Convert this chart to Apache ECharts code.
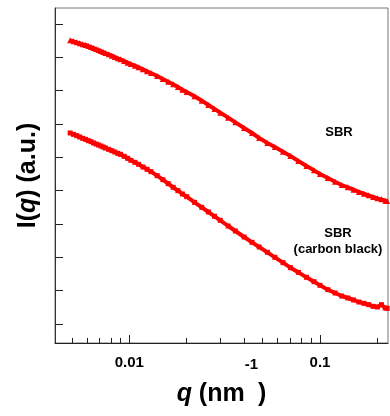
<!DOCTYPE html>
<html><head><meta charset="utf-8">
<script src="https://cdn.jsdelivr.net/npm/echarts@6/dist/echarts.min.js"></script>
<style>html,body{margin:0;padding:0;background:#fff}#c{width:390px;height:416px}</style>
</head><body><div id="c"></div>
<script>
// q values (nm^-1), shared sampling of both curves
const qSBR = [0.0049,0.0051,0.0053,0.0055,0.0057,0.0059,0.0061,0.0063,0.0065,0.0067,0.0069,0.0071,0.0073,0.0075,0.0078,0.0081,0.0084,0.0087,0.009,0.0094,0.0098,0.0102,0.0107,0.0112,0.0118,0.0124,0.013,0.014,0.015,0.016,0.017,0.018,0.019,0.02,0.022,0.024,0.026,0.028,0.03,0.033,0.036,0.04,0.044,0.048,0.053,0.058,0.064,0.07,0.077,0.085,0.093,0.1,0.11,0.12,0.13,0.14,0.15,0.16,0.17,0.18,0.19,0.2,0.21,0.22,0.225];
const iSBR = [9.51,9.48,9.45,9.42,9.39,9.37,9.34,9.31,9.28,9.25,9.22,9.19,9.16,9.13,9.09,9.05,9.01,8.97,8.94,8.89,8.84,8.80,8.75,8.70,8.64,8.58,8.53,8.44,8.35,8.27,8.19,8.11,8.03,7.96,7.83,7.70,7.57,7.45,7.34,7.19,7.05,6.88,6.73,6.58,6.43,6.31,6.17,6.04,5.89,5.74,5.61,5.50,5.38,5.27,5.17,5.10,5.03,4.96,4.91,4.86,4.81,4.77,4.74,4.70,4.69];
const qCB = [0.0049,0.0051,0.0053,0.0055,0.0057,0.0059,0.0061,0.0063,0.0065,0.0067,0.0069,0.0071,0.0073,0.0075,0.0078,0.0081,0.0084,0.0087,0.009,0.0094,0.0098,0.0102,0.0107,0.0112,0.0118,0.0124,0.013,0.014,0.015,0.016,0.017,0.018,0.019,0.02,0.022,0.024,0.026,0.028,0.03,0.033,0.036,0.04,0.044,0.048,0.053,0.058,0.064,0.07,0.077,0.085,0.093,0.1,0.11,0.12,0.13,0.14,0.15,0.16,0.17,0.18,0.19,0.2,0.21,0.22,0.225];
const iCB = [6.73,6.69,6.65,6.61,6.57,6.54,6.50,6.47,6.43,6.40,6.37,6.34,6.31,6.28,6.24,6.20,6.16,6.12,6.09,6.03,5.97,5.91,5.85,5.79,5.71,5.64,5.57,5.45,5.33,5.21,5.10,5.00,4.90,4.82,4.65,4.50,4.36,4.23,4.11,3.94,3.79,3.61,3.45,3.31,3.15,3.00,2.84,2.69,2.55,2.40,2.27,2.16,2.03,1.93,1.84,1.78,1.72,1.66,1.62,1.58,1.53,1.51,1.58,1.48,1.47];
const xMajorTicks = [0.01, 0.1];
const xTickLabels = ['0.01', '0.1'];
const xMinorTicks = [0.005,0.006,0.007,0.008,0.009,0.02,0.03,0.04,0.05,0.06,0.07,0.08,0.09,0.2];
const yTicks = [1,2,3,4,5,6,7,8,9,10];
const seriesNames = ['SBR', 'SBR (carbon black)'];

const FONT = "'Liberation Sans', Arial, sans-serif";
const X_MIN = 0.00408, X_MAX = 0.2273, Y_MIN = 0.43, Y_MAX = 10.48;

const chart = echarts.init(document.getElementById('c'), null, {renderer: 'canvas'});
chart.setOption({
  animation: false,
  backgroundColor: '#fff',
  grid: {left: 55, right: 2, top: 8, bottom: 73, containLabel: false, outerBoundsMode: 'none',
         show: true, borderColor: '#777', borderWidth: 1, backgroundColor: 'transparent'},
  xAxis: [{
    type: 'log', logBase: 10, min: X_MIN, max: X_MAX, position: 'bottom',
    axisLine: {show: true, lineStyle: {color: '#222', width: 1}},
    axisTick: {show: true, inside: true, length: 8, customValues: xMajorTicks, lineStyle: {color: '#222'}},
    axisLabel: {show: true, customValues: xMajorTicks, margin: 12, color: '#000', fontSize: 15, fontWeight: 'bold', fontFamily: FONT,
      formatter: v => { let k = 0; xMajorTicks.forEach((t, j) => { if (Math.abs(Math.log10(t) - Math.log10(v)) < Math.abs(Math.log10(xMajorTicks[k]) - Math.log10(v))) k = j; }); return xTickLabels[k]; }},
    splitLine: {show: false}, minorTick: {show: false},
    name: '{i|q}{n| (nm}{s|-1}{n|)}', nameLocation: 'middle', nameGap: 14, nameMoveOverlap: false,
    nameTextStyle: {color: '#000', fontFamily: FONT, fontWeight: 'bold', fontSize: 25,
      rich: {
        i: {fontSize: 25, fontWeight: 'bold', fontStyle: 'italic', fontFamily: FONT, color: '#000', lineHeight: 50, verticalAlign: 'bottom'},
        n: {fontSize: 25, fontWeight: 'bold', fontFamily: FONT, color: '#000', lineHeight: 50, verticalAlign: 'bottom'},
        s: {fontSize: 15, fontWeight: 'bold', fontFamily: FONT, color: '#000', lineHeight: 16, verticalAlign: 'top'}
      }}
  }, {
    type: 'log', logBase: 10, min: X_MIN, max: X_MAX, position: 'top', offset: -335,
    axisLine: {show: false},
    axisTick: {show: true, inside: false, length: 5, customValues: xMinorTicks, lineStyle: {color: '#222'}},
    axisLabel: {show: false}, splitLine: {show: false}
  }],
  yAxis: {
    type: 'value', min: Y_MIN, max: Y_MAX,
    axisLine: {show: true, lineStyle: {color: '#333', width: 1}},
    axisTick: {show: true, inside: true, length: 8, customValues: yTicks, lineStyle: {color: '#222'}},
    axisLabel: {show: false}, splitLine: {show: false},
    name: '{n|I(}{i|q}{n|) (a.u.)}', nameLocation: 'middle', nameGap: 14, nameMoveOverlap: false,
    nameTextStyle: {color: '#000', fontFamily: FONT, fontWeight: 'bold', fontSize: 25,
      rich: {
        n: {fontSize: 25, fontWeight: 'bold', fontFamily: FONT, color: '#000'},
        i: {fontSize: 25, fontWeight: 'bold', fontStyle: 'italic', fontFamily: FONT, color: '#000'}
      }}
  },
  series: [{
    name: seriesNames[0], type: 'line', xAxisIndex: 0,
    data: qSBR.map((q, k) => [q, iSBR[k]]),
    symbol: 'triangle', symbolSize: 6, showSymbol: true,
    itemStyle: {color: '#ff0000'}, lineStyle: {color: '#ff0000', width: 4}
  }, {
    name: seriesNames[1], type: 'line', xAxisIndex: 0,
    data: qCB.map((q, k) => [q, iCB[k]]),
    symbol: 'rect', symbolSize: 5, showSymbol: true,
    itemStyle: {color: '#ff0000'}, lineStyle: {color: '#ff0000', width: 4}
  }],
  graphic: [
    {type: 'text', x: 339, y: 132, style: {text: 'SBR', fill: '#000', font: 'bold 13px ' + FONT, align: 'center', verticalAlign: 'middle'}},
    {type: 'text', x: 338, y: 241, style: {text: 'SBR\n(carbon black)', fill: '#000', font: 'bold 13px ' + FONT, align: 'center', verticalAlign: 'middle', lineHeight: 16}}
  ]
});
</script>
</body></html>
